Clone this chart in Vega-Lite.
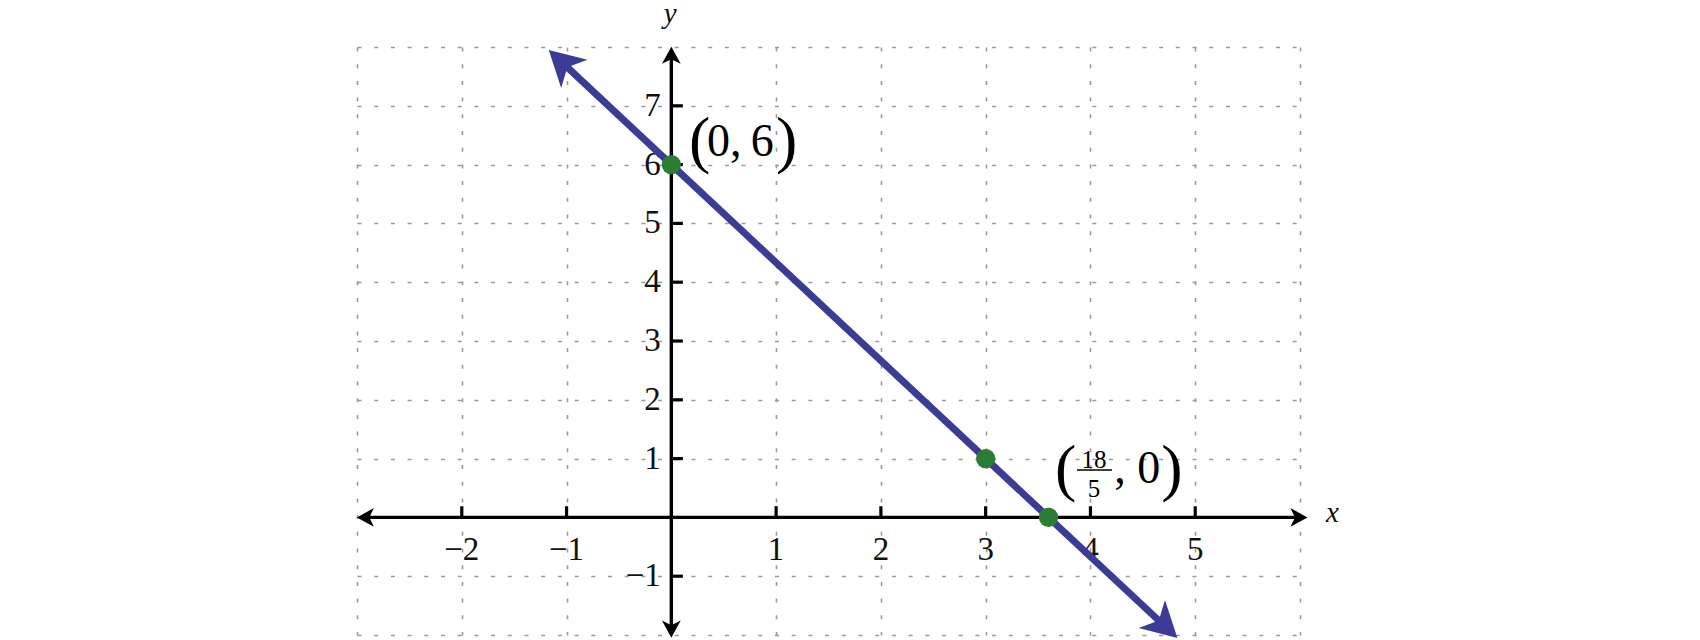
{
  "$schema": "https://vega.github.io/schema/vega-lite/v6.json",
  "width": 943,
  "height": 588,
  "autosize": "none",
  "padding": {"left": 357, "top": 47, "right": 400, "bottom": 5},
  "background": "white",
  "config": {"view": {"stroke": null}},
  "datasets": {
    "xaxis": [{"x": -2.92, "y": 0, "x2": 5.99}],
    "yaxis": [{"x": 0, "y": -1.9, "y2": 7.86}],
    "axisArrows": [
      {"x": -2.92, "y": 0, "heading": 180},
      {"x": 5.99, "y": 0, "heading": 0},
      {"x": 0, "y": 7.86, "heading": 270},
      {"x": 0, "y": -1.9, "heading": 90}
    ],
    "xticks": [
      {"v": -2, "t": "−2"}, {"v": -1, "t": "−1"}, {"v": 1, "t": "1"}, {"v": 2, "t": "2"},
      {"v": 3, "t": "3"}, {"v": 4, "t": "4"}, {"v": 5, "t": "5"}
    ],
    "yticks": [
      {"v": -1, "t": "−1"}, {"v": 1, "t": "1"}, {"v": 2, "t": "2"}, {"v": 3, "t": "3"},
      {"v": 4, "t": "4"}, {"v": 5, "t": "5"}, {"v": 6, "t": "6"}, {"v": 7, "t": "7"}
    ],
    "axisNames": [
      {"x": 6.31, "y": -0.08, "t": "x"},
      {"x": -0.01, "y": 8.4, "t": "y"}
    ],
    "line": [{"x": -1.048, "y": 7.747}, {"x": 4.708, "y": -1.847}],
    "lineArrows": [
      {"x": -1.048, "y": 7.747, "heading": 223.08},
      {"x": 4.708, "y": -1.847, "heading": 43.08}
    ],
    "points": [{"x": 0, "y": 6}, {"x": 3, "y": 1}, {"x": 3.6, "y": 0}],
    "parens": [
      {"x": 0.169, "y": 6.38, "t": "("},
      {"x": 0.999, "y": 6.38, "t": ")"},
      {"x": 3.662, "y": 0.8, "t": "("},
      {"x": 4.675, "y": 0.8, "t": ")"}
    ],
    "labelText": [
      {"x": 0.341, "y": 6.39, "t": "0,\u20096"},
      {"x": 4.227, "y": 0.82, "t": ", 0"}
    ],
    "fraction": [
      {"x": 4.034, "y": 0.976, "t": "18"},
      {"x": 4.034, "y": 0.491, "t": "5"}
    ],
    "fracBar": [{"x": 3.872, "x2": 4.206, "y": 0.806}]
  },
  "layer": [
    {
      "data": {"name": "xaxis"},
      "mark": {"type": "rule", "color": "black", "strokeWidth": 3.4},
      "encoding": {
        "x": {"field": "x", "type": "quantitative", "scale": {"domain": [-3, 6], "nice": false, "zero": false}, "axis": {"values": [-3, -2, -1, 0, 1, 2, 3, 4, 5, 6], "grid": true, "labels": false, "ticks": false, "domain": false, "title": null, "gridDash": [4, 12.7], "gridColor": "#9a9a9a", "gridWidth": 1.6}},
        "x2": {"field": "x2"},
        "y": {"field": "y", "type": "quantitative", "scale": {"domain": [-2, 8], "nice": false, "zero": false}, "axis": {"values": [-2, -1, 0, 1, 2, 3, 4, 5, 6, 7, 8], "grid": true, "labels": false, "ticks": false, "domain": false, "title": null, "gridDash": [4, 12.7], "gridColor": "#9a9a9a", "gridWidth": 1.6}}
      }
    },
    {
      "data": {"name": "yaxis"},
      "mark": {"type": "rule", "color": "black", "strokeWidth": 3.4},
      "encoding": {
        "x": {"field": "x", "type": "quantitative", "scale": {"domain": [-3, 6], "nice": false, "zero": false}},
        "y": {"field": "y", "type": "quantitative", "scale": {"domain": [-2, 8], "nice": false, "zero": false}},
        "y2": {"field": "y2"}
      }
    },
    {
      "data": {"name": "axisArrows"},
      "mark": {"type": "point", "shape": "M 1 0 L -1 -1.1 L -0.46 0 L -1 1.1 Z", "filled": true, "color": "black", "opacity": 1, "size": 290, "strokeWidth": 0},
      "encoding": {
        "x": {"field": "x", "type": "quantitative", "scale": {"domain": [-3, 6], "nice": false, "zero": false}},
        "y": {"field": "y", "type": "quantitative", "scale": {"domain": [-2, 8], "nice": false, "zero": false}},
        "angle": {"field": "heading", "type": "quantitative", "scale": null}
      }
    },
    {
      "data": {"name": "xticks"},
      "mark": {"type": "rule", "color": "black", "strokeWidth": 3.2},
      "encoding": {
        "x": {"field": "v", "type": "quantitative", "scale": {"domain": [-3, 6], "nice": false, "zero": false}},
        "y": {"datum": 0, "type": "quantitative", "scale": {"domain": [-2, 8], "nice": false, "zero": false}},
        "y2": {"datum": 0.19}
      }
    },
    {
      "data": {"name": "yticks"},
      "mark": {"type": "rule", "color": "black", "strokeWidth": 3.2},
      "encoding": {
        "y": {"field": "v", "type": "quantitative", "scale": {"domain": [-2, 8], "nice": false, "zero": false}},
        "x": {"datum": 0, "type": "quantitative", "scale": {"domain": [-3, 6], "nice": false, "zero": false}},
        "x2": {"datum": 0.11}
      }
    },
    {
      "data": {"name": "xticks"},
      "mark": {"type": "text", "font": "Liberation Serif", "fontSize": 33, "align": "center", "baseline": "middle", "color": "#111"},
      "encoding": {
        "x": {"field": "v", "type": "quantitative", "scale": {"domain": [-3, 6], "nice": false, "zero": false}},
        "y": {"datum": -0.55, "type": "quantitative", "scale": {"domain": [-2, 8], "nice": false, "zero": false}},
        "text": {"field": "t"}
      }
    },
    {
      "data": {"name": "yticks"},
      "mark": {"type": "text", "font": "Liberation Serif", "fontSize": 33, "align": "right", "baseline": "middle", "color": "#111"},
      "encoding": {
        "y": {"field": "v", "type": "quantitative", "scale": {"domain": [-2, 8], "nice": false, "zero": false}},
        "x": {"datum": -0.1, "type": "quantitative", "scale": {"domain": [-3, 6], "nice": false, "zero": false}},
        "text": {"field": "t"}
      }
    },
    {
      "data": {"name": "axisNames"},
      "mark": {"type": "text", "font": "Liberation Serif", "fontSize": 29, "fontStyle": "italic", "align": "center", "baseline": "alphabetic", "color": "#111"},
      "encoding": {
        "x": {"field": "x", "type": "quantitative", "scale": {"domain": [-3, 6], "nice": false, "zero": false}},
        "y": {"field": "y", "type": "quantitative", "scale": {"domain": [-2, 8], "nice": false, "zero": false}},
        "text": {"field": "t"}
      }
    },
    {
      "data": {"name": "line"},
      "mark": {"type": "line", "color": "#3c3c96", "strokeWidth": 7, "strokeCap": "butt"},
      "encoding": {
        "x": {"field": "x", "type": "quantitative", "scale": {"domain": [-3, 6], "nice": false, "zero": false}},
        "y": {"field": "y", "type": "quantitative", "scale": {"domain": [-2, 8], "nice": false, "zero": false}}
      }
    },
    {
      "data": {"name": "lineArrows"},
      "mark": {"type": "point", "shape": "M 1 0 L -1 -1.1 L -0.46 0 L -1 1.1 Z", "filled": true, "color": "#3c3c96", "opacity": 1, "size": 1225, "strokeWidth": 0},
      "encoding": {
        "x": {"field": "x", "type": "quantitative", "scale": {"domain": [-3, 6], "nice": false, "zero": false}},
        "y": {"field": "y", "type": "quantitative", "scale": {"domain": [-2, 8], "nice": false, "zero": false}},
        "angle": {"field": "heading", "type": "quantitative", "scale": null}
      }
    },
    {
      "data": {"name": "points"},
      "mark": {"type": "circle", "color": "#2a7d32", "opacity": 1, "size": 370},
      "encoding": {
        "x": {"field": "x", "type": "quantitative", "scale": {"domain": [-3, 6], "nice": false, "zero": false}},
        "y": {"field": "y", "type": "quantitative", "scale": {"domain": [-2, 8], "nice": false, "zero": false}}
      }
    },
    {
      "data": {"name": "parens"},
      "mark": {"type": "text", "font": "Liberation Serif", "fontSize": 64, "align": "left", "baseline": "middle", "color": "black"},
      "encoding": {
        "x": {"field": "x", "type": "quantitative", "scale": {"domain": [-3, 6], "nice": false, "zero": false}},
        "y": {"field": "y", "type": "quantitative", "scale": {"domain": [-2, 8], "nice": false, "zero": false}},
        "text": {"field": "t"}
      }
    },
    {
      "data": {"name": "labelText"},
      "mark": {"type": "text", "font": "Liberation Serif", "fontSize": 46, "align": "left", "baseline": "middle", "color": "black"},
      "encoding": {
        "x": {"field": "x", "type": "quantitative", "scale": {"domain": [-3, 6], "nice": false, "zero": false}},
        "y": {"field": "y", "type": "quantitative", "scale": {"domain": [-2, 8], "nice": false, "zero": false}},
        "text": {"field": "t"}
      }
    },
    {
      "data": {"name": "fraction"},
      "mark": {"type": "text", "font": "Liberation Serif", "fontSize": 25, "align": "center", "baseline": "middle", "color": "black"},
      "encoding": {
        "x": {"field": "x", "type": "quantitative", "scale": {"domain": [-3, 6], "nice": false, "zero": false}},
        "y": {"field": "y", "type": "quantitative", "scale": {"domain": [-2, 8], "nice": false, "zero": false}},
        "text": {"field": "t"}
      }
    },
    {
      "data": {"name": "fracBar"},
      "mark": {"type": "rule", "color": "black", "strokeWidth": 1.5},
      "encoding": {
        "x": {"field": "x", "type": "quantitative", "scale": {"domain": [-3, 6], "nice": false, "zero": false}},
        "x2": {"field": "x2"},
        "y": {"field": "y", "type": "quantitative", "scale": {"domain": [-2, 8], "nice": false, "zero": false}}
      }
    }
  ]
}
